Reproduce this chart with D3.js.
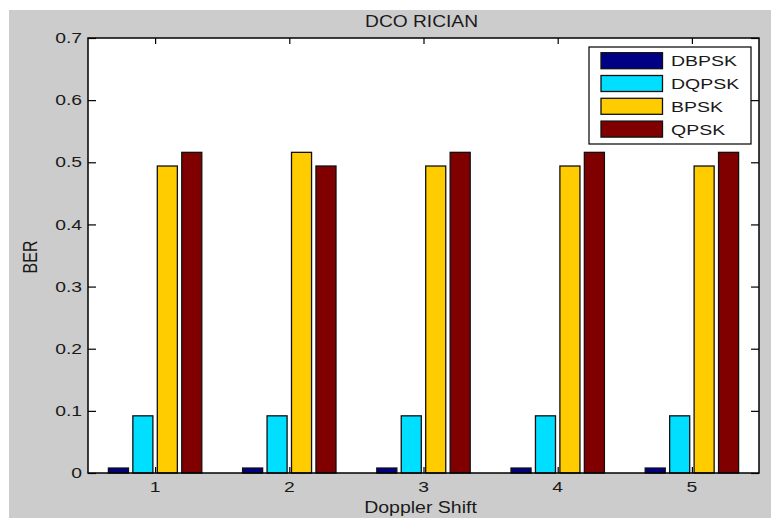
<!DOCTYPE html>
<html>
<head>
<meta charset="utf-8">
<script src="https://cdn.jsdelivr.net/npm/d3@7"></script>
<style>
html,body{margin:0;padding:0;background:#fff;}
svg{display:block;}
text{font-family:"Liberation Sans",Arial,Helvetica,sans-serif;fill:#1a1a1a;}
</style>
</head>
<body>
<svg id="chart" width="771" height="518"></svg>
<script>
// ---- data ----
const title = "DCO RICIAN";
const xLabel = "Doppler Shift";
const yLabel = "BER";
const categories = [1, 2, 3, 4, 5];
const seriesNames = ["DBPSK", "DQPSK", "BPSK", "QPSK"];
const seriesColors = ["#000085", "#00DFFF", "#FFCC00", "#800000"];
const dbpsk = [0.008, 0.008, 0.008, 0.008, 0.008];
const dqpsk = [0.092, 0.092, 0.092, 0.092, 0.092];
const bpsk  = [0.494, 0.516, 0.494, 0.494, 0.494];
const qpsk  = [0.516, 0.494, 0.516, 0.516, 0.516];
const yTicks = [0, 0.1, 0.2, 0.3, 0.4, 0.5, 0.6, 0.7];
const yTickLabels = ["0", "0.1", "0.2", "0.3", "0.4", "0.5", "0.6", "0.7"];

const seriesValues = [dbpsk, dqpsk, bpsk, qpsk];

(function () {
const svg = d3.select("#chart");
const W = 771, H = 518;
const pL = 88, pR = 759, pT = 38, pB = 473;

// figure background
svg.append("rect").attr("x", 9).attr("y", 10).attr("width", W - 9).attr("height", H - 10).attr("fill", "#cccccc");

const x = d3.scaleLinear().domain([0.5, 5.5]).range([pL, pR]);
const y = d3.scaleLinear().domain([0, 0.7]).range([pB, pT]);

// plot area
svg.append("rect").attr("x", pL).attr("y", pT).attr("width", pR - pL).attr("height", pB - pT).attr("fill", "#fff");

const groupHalf = 0.348; // data units
const inner = d3.scaleBand().domain(seriesNames).range([-groupHalf, groupHalf]).paddingInner(0.18).paddingOuter(0);

const rows = [];
categories.forEach((c, i) => {
  seriesNames.forEach((s, j) => rows.push({c, s, j, v: seriesValues[j][i]}));
});

svg.append("g").selectAll("rect").data(rows).join("rect")
  .attr("x", d => x(d.c + inner(d.s)))
  .attr("width", d => x(d.c + inner(d.s) + inner.bandwidth()) - x(d.c + inner(d.s)))
  .attr("y", d => y(d.v))
  .attr("height", d => y(0) - y(d.v))
  .attr("fill", d => seriesColors[d.j])
  .attr("stroke", "#111")
  .attr("stroke-width", 1.3);

// helper for horizontally stretched text
function stext(g, str, tx, ty, size, kx, anchor, rot) {
  const grp = g.append("g").attr("transform", `translate(${tx},${ty}) scale(${kx},1)` + (rot ? ` rotate(${rot})` : ""));
  grp.append("text").attr("x", 0).attr("y", 0).attr("font-size", size).attr("text-anchor", anchor).text(str);
  return grp;
}

// axes using d3 axis generators (ticks inward)
const axG = svg.append("g");
const xAxisB = d3.axisBottom(x).tickValues(categories).tickSize(-6).tickFormat("");
const xAxisT = d3.axisTop(x).tickValues(categories).tickSize(-6).tickFormat("");
const yAxisL = d3.axisLeft(y).tickValues(yTicks).tickSize(-8).tickFormat("");
const yAxisR = d3.axisRight(y).tickValues(yTicks).tickSize(-8).tickFormat("");
[[xAxisB, `translate(0,${pB})`], [xAxisT, `translate(0,${pT})`], [yAxisL, `translate(${pL},0)`], [yAxisR, `translate(${pR},0)`]].forEach(([ax, tr]) => {
  const g = axG.append("g").attr("transform", tr).call(ax);
  g.select(".domain").remove();
  g.selectAll(".tick line").attr("stroke", "#000").attr("stroke-width", 1.2);
});
axG.append("rect").attr("x", pL).attr("y", pT).attr("width", pR - pL).attr("height", pB - pT)
  .attr("fill", "none").attr("stroke", "#000").attr("stroke-width", 1.5);

// tick labels
const lab = svg.append("g");
yTicks.forEach((t, i) => stext(lab, yTickLabels[i], 82, y(t) + 5.2, 14, 1.38, "end"));
categories.forEach(c => stext(lab, String(c), x(c), 492, 14, 1.38, "middle"));

// title & labels
stext(lab, title, (pL + pR) / 2 - 2, 26.5, 16, 1.2, "middle");
stext(lab, xLabel, (pL + pR) / 2 - 3, 513, 16, 1.22, "middle");
stext(lab, yLabel, 36.5, 257, 16, 1.22, "middle", -90);

// legend
const lg = svg.append("g");
lg.append("rect").attr("x", 589).attr("y", 47).attr("width", 162).attr("height", 97)
  .attr("fill", "#fff").attr("stroke", "#000").attr("stroke-width", 1.2);
seriesNames.forEach((s, j) => {
  const cy = 60.7 + j * 22.8;
  lg.append("rect").attr("x", 601).attr("y", cy - 8).attr("width", 61.5).attr("height", 16)
    .attr("fill", seriesColors[j]).attr("stroke", "#111").attr("stroke-width", 1.3);
  stext(lg, s, 671, cy + 5.7, 15, 1.3, "start");
});
})();
</script>
</body>
</html>
